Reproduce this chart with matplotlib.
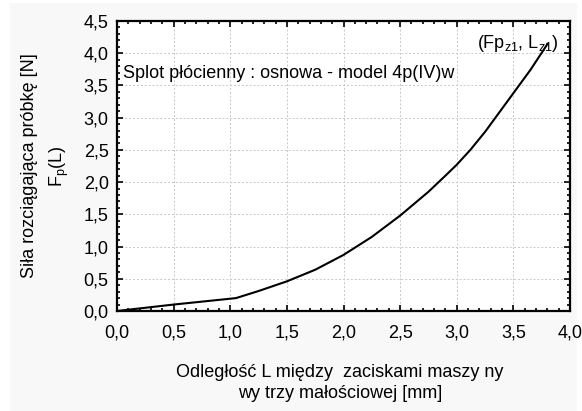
import numpy as np
import matplotlib
matplotlib.use('Agg')
import matplotlib.pyplot as plt
from matplotlib.ticker import MultipleLocator, FuncFormatter
from matplotlib.patches import Rectangle

# data
L = [0.0, 0.5, 1.05, 1.25, 1.5, 1.75, 2.0, 2.25, 2.5, 2.75, 2.9, 3.0, 3.12, 3.25, 3.4, 3.5, 3.65, 3.8]
F = [0.0, 0.1, 0.2, 0.31, 0.46, 0.64, 0.87, 1.15, 1.48, 1.85, 2.1, 2.27, 2.5, 2.78, 3.14, 3.38, 3.74, 4.14]

xlabel_txt = "Odległość L między  zaciskami maszy ny\nwy trzy małościowej [mm]"
ylabel_txt = "Siła rozciągająca próbkę [N]\nF$_\\mathrm{p}$(L)"
title_txt = "Splot płócienny : osnowa - model 4p(IV)w"
end_txt = "(Fp$_\\mathrm{z1}$, L$_\\mathrm{z1}$)"

plt.rcParams['font.family'] = ['Liberation Sans', 'DejaVu Sans']
plt.rcParams['mathtext.fontset'] = 'custom'
plt.rcParams['mathtext.rm'] = 'Liberation Sans'
plt.rcParams['mathtext.it'] = 'Liberation Sans:italic'

fs = 13

fig = plt.figure(figsize=(5.82, 4.11), dpi=100, facecolor='white')
fig.patches.append(Rectangle((10/582, 0), 1 - 15/582, 1 - 3/411, transform=fig.transFigure,
                             facecolor='#f8f8f8', edgecolor='none', zorder=-10))
ax = fig.add_axes([117/582, 1 - 311/411, (570 - 117)/582, (311 - 21)/411])
ax.set_facecolor('white')

ax.plot(L, F, color='black', lw=1.5, solid_joinstyle='round')

ax.set_xlim(0, 4)
ax.set_ylim(0, 4.5)
ax.xaxis.set_major_locator(MultipleLocator(0.5))
ax.xaxis.set_minor_locator(MultipleLocator(0.1))
ax.yaxis.set_major_locator(MultipleLocator(0.5))
ax.yaxis.set_minor_locator(MultipleLocator(0.1))
comma = FuncFormatter(lambda v, p: ('%.1f' % v).replace('.', ','))
ax.xaxis.set_major_formatter(comma)
ax.yaxis.set_major_formatter(comma)
ax.tick_params(which='both', direction='in', top=True, right=True, width=1.2)
ax.tick_params(which='major', length=4, labelsize=fs)
ax.tick_params(which='minor', length=2.5)
ax.tick_params(axis='y', pad=6)
ax.tick_params(axis='x', pad=10)
for s in ax.spines.values():
    s.set_linewidth(1.6)

ax.grid(True, which='major', color='#c8c8c8', linestyle=(0, (2, 2)), lw=0.7)

ax.text(0.05, 3.68, title_txt, fontsize=fs, va='center', ha='left')
ax.text(3.9, 4.15, end_txt, fontsize=fs, va='center', ha='right')

fig.text(340/582, 1 - 383/411, xlabel_txt, fontsize=fs, ha='center', va='center',
         linespacing=1.35)
fig.text(46/582, 1 - 166/411, ylabel_txt, fontsize=fs, ha='center', va='center',
         rotation=90, linespacing=1.7)

fig.savefig('out.png', dpi=100, facecolor=fig.get_facecolor())
